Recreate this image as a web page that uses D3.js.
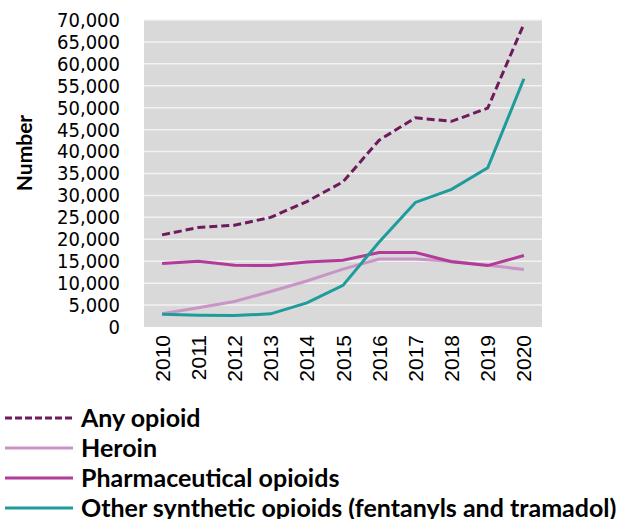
<!DOCTYPE html>
<html>
<head>
<meta charset="utf-8">
<script src="https://d3js.org/d3.v7.min.js"></script>
<style>
  body { margin: 0; background: white; }
</style>
</head>
<body>
<div id="chart"></div>
<script>
// data
var years = ["2010","2011","2012","2013","2014","2015","2016","2017","2018","2019","2020"];
var anyOpioid = [21000, 22700, 23200, 25000, 28600, 33100, 42600, 47700, 46900, 49900, 69100];
var heroin = [3000, 4400, 5800, 8100, 10500, 13200, 15500, 15500, 15000, 14100, 13100];
var pharma = [14500, 15000, 14100, 14000, 14800, 15200, 17000, 17000, 14900, 14000, 16300];
var synthetic = [2900, 2700, 2600, 3000, 5500, 9500, 19400, 28400, 31400, 36300, 56600];
var yTicks = d3.range(0, 70001, 5000);

var series = [
  {name: "Any opioid", values: anyOpioid, color: "#6d1b5c", dash: "8,4"},
  {name: "Heroin", values: heroin, color: "#c994c6", dash: null},
  {name: "Pharmaceutical opioids", values: pharma, color: "#b23a98", dash: null},
  {name: "Other synthetic opioids (fentanyls and tramadol)", values: synthetic, color: "#1e9c9c", dash: null}
];

var width = 621, height = 519;
var plotLeft = 144, plotRight = 542, plotTop = 20, plotBottom = 327;

var svg = d3.select("#chart").append("svg")
    .attr("width", width)
    .attr("height", height);

var x = d3.scaleBand().domain(years).range([plotLeft, plotRight]);
var y = d3.scaleLinear().domain([0, 70000]).range([plotBottom, plotTop]);

// plot background
svg.append("rect")
    .attr("x", plotLeft).attr("y", plotTop)
    .attr("width", plotRight - plotLeft).attr("height", plotBottom - plotTop)
    .attr("fill", "#d9d9d9");

// grid
svg.append("g").selectAll("line")
    .data(yTicks.slice(1))
    .enter().append("line")
    .attr("x1", plotLeft).attr("x2", plotRight)
    .attr("y1", function(d) { return y(d); })
    .attr("y2", function(d) { return y(d); })
    .attr("stroke", "#f2f2f2")
    .attr("stroke-width", 1.5);

// y axis
var yAxis = svg.append("g")
    .attr("transform", "translate(" + (plotLeft - 24) + ",0)")
    .call(d3.axisLeft(y).tickValues(yTicks).tickSize(0).tickPadding(0)
      .tickFormat(d3.format(",")));
yAxis.select(".domain").remove();
yAxis.selectAll("text")
    .style("font-family", "'DejaVu Sans Condensed', 'DejaVu Sans', sans-serif")
    .style("font-size", "20px")
    .attr("fill", "#000");

// x axis
var xAxis = svg.append("g")
    .attr("transform", "translate(0," + plotBottom + ")")
    .call(d3.axisBottom(x).tickSize(0).tickPadding(0));
xAxis.select(".domain").remove();
xAxis.selectAll("text")
    .style("font-family", "'Liberation Sans', Arial, sans-serif")
    .style("font-size", "21px")
    .attr("fill", "#000")
    .attr("text-anchor", "end")
    .attr("dy", "0.36em")
    .attr("transform", "translate(0,8) rotate(-90)")
    .attr("x", 0).attr("y", 0);

// y title
svg.append("text")
    .attr("transform", "translate(32,153) rotate(-90)")
    .attr("text-anchor", "middle")
    .style("font-family", "Lato, sans-serif")
    .style("font-weight", "bold")
    .style("font-size", "21px")
    .text("Number");

// lines
var line = d3.line()
    .x(function(d, i) { return x(years[i]) + x.bandwidth() / 2; })
    .y(function(d) { return y(d); });

var drawOrder = [series[1], series[2], series[3], series[0]];
svg.append("g").selectAll("path")
    .data(drawOrder)
    .enter().append("path")
    .attr("d", function(d) { return line(d.values); })
    .attr("fill", "none")
    .attr("stroke", function(d) { return d.color; })
    .attr("stroke-width", 3)
    .attr("stroke-dasharray", function(d) { return d.dash; });

// legend
var legend = svg.append("g").selectAll("g")
    .data(series)
    .enter().append("g")
    .attr("transform", function(d, i) { return "translate(0," + (418 + i * 30) + ")"; });

legend.append("line")
    .attr("x1", 5).attr("x2", 73)
    .attr("stroke", function(d) { return d.color; })
    .attr("stroke-width", 3)
    .attr("stroke-dasharray", function(d) { return d.dash ? "7,3" : null; });

legend.append("text")
    .attr("x", 81)
    .attr("dy", "0.35em")
    .style("font-family", "Lato, sans-serif")
    .style("font-weight", "bold")
    .style("font-size", "25px")
    .text(function(d) { return d.name; });
</script>
</body>
</html>
